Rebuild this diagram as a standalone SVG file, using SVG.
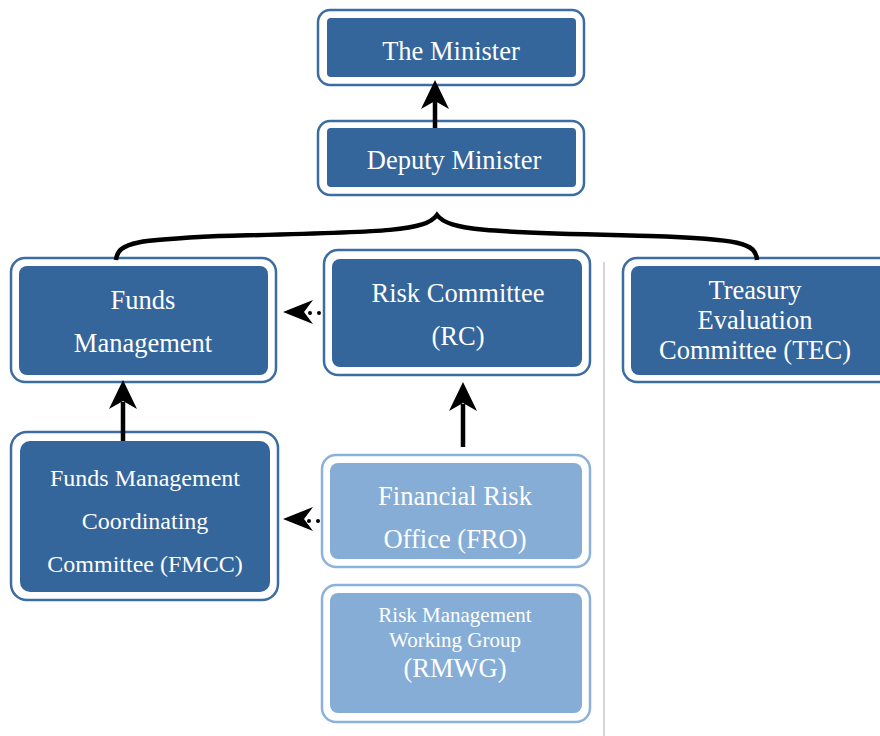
<svg xmlns="http://www.w3.org/2000/svg" width="880" height="736" viewBox="0 0 880 736">
<style>
.o{fill:#fff;stroke:#3b6ca2;stroke-width:2.5}
.ol{fill:#fff;stroke:#8cb2da;stroke-width:2.5}
.i{fill:#34659b}
.il{fill:#85add6}
text{font-family:"Liberation Serif","Times New Roman",serif;fill:#fff;text-anchor:middle;font-size:26.5px}
.c{fill:none;stroke:#000;stroke-width:4.5}
.h{fill:#000;stroke:none}
</style>
<line x1="604" y1="262" x2="604" y2="736" stroke="#c8c8c8" stroke-width="1.5"/>
<g id="minister">
<rect class="o" x="318" y="10" width="266" height="75" rx="12"/>
<rect class="i" x="327" y="18" width="249" height="59" rx="4"/>
<text x="451" y="60">The Minister</text>
</g>
<g id="deputy">
<rect class="o" x="318" y="121" width="266" height="74" rx="12"/>
<rect class="i" x="327" y="128" width="249" height="59" rx="4"/>
<text x="454" y="169">Deputy Minister</text>
</g>
<g id="funds">
<rect class="o" x="11" y="258" width="265" height="124" rx="14"/>
<rect class="i" x="19" y="266" width="249" height="109" rx="8"/>
<text x="143" y="309">Funds</text>
<text x="143" y="352">Management</text>
</g>
<g id="rc">
<rect class="o" x="324" y="250" width="266" height="125" rx="14"/>
<rect class="i" x="332" y="259" width="250" height="108" rx="8"/>
<text x="458" y="302">Risk Committee</text>
<text x="458" y="345">(RC)</text>
</g>
<g id="tec">
<rect class="o" x="623" y="258" width="270" height="124" rx="14"/>
<rect class="i" x="631" y="266" width="260" height="109" rx="8"/>
<text x="755" y="299">Treasury</text>
<text x="755" y="329">Evaluation</text>
<text x="755" y="359">Committee (TEC)</text>
</g>
<g id="fmcc">
<rect class="o" x="11" y="432" width="267" height="168" rx="16"/>
<rect class="i" x="20" y="441" width="250" height="151" rx="10"/>
<text x="145" y="486" style="font-size:24px">Funds Management</text>
<text x="145" y="529" style="font-size:24px">Coordinating</text>
<text x="145" y="572" style="font-size:24px">Committee (FMCC)</text>
</g>
<g id="fro">
<rect class="ol" x="322" y="455" width="268" height="112" rx="14"/>
<rect class="il" x="330" y="463" width="252" height="96" rx="8"/>
<text x="455" y="505">Financial Risk</text>
<text x="455" y="548">Office (FRO)</text>
</g>
<g id="rmwg">
<rect class="ol" x="322" y="585" width="268" height="137" rx="14"/>
<rect class="il" x="330" y="593" width="252" height="120" rx="8"/>
<text x="455" y="622" style="font-size:21px">Risk Management</text>
<text x="455" y="647" style="font-size:21px">Working Group</text>
<text x="455" y="677">(RMWG)</text>
</g>
<g id="connectors">
<path class="c" d="M116,260 C118,241 140,240 220,236 C380,232 425,232 437,215 C450,232 495,232 650,236 C740,239 756,243 757,260"/>
<line class="c" x1="435" y1="128" x2="435" y2="100"/>
<path class="h" d="M435,80 L449,109 L435,101 L421,109 Z"/>
<line class="c" x1="123" y1="441" x2="123" y2="402"/>
<path class="h" d="M123,380 L137,409 L123,401 L109,409 Z"/>
<line class="c" x1="463" y1="447" x2="463" y2="404"/>
<path class="h" d="M463,382 L477,411 L463,403 L449,411 Z"/>
<circle class="h" cx="310" cy="313" r="2"/>
<circle class="h" cx="319" cy="313" r="2"/>
<path class="h" d="M283,312 L313,300 L304,312 L313,324 Z"/>
<circle class="h" cx="309" cy="521" r="2"/>
<circle class="h" cx="318" cy="521" r="2"/>
<path class="h" d="M283,519 L313,507 L304,519 L313,531 Z"/>
</g>
</svg>
